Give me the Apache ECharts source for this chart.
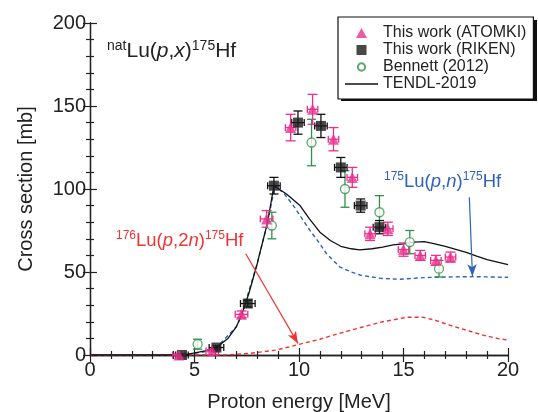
<!DOCTYPE html>
<html>
<head>
<meta charset="utf-8">
<script src="https://cdn.jsdelivr.net/npm/echarts@6/dist/echarts.min.js"></script>
<style>
  html, body { margin: 0; padding: 0; background: #fff; }
  #chart { width: 538px; height: 412px; }
</style>
</head>
<body>
<div id="chart"></div>
<script>
// [energy MeV, cross section mb, dy, dx]
const atomki = [
  [4.25, 0, 0.6, 0.3],
  [5.85, 2.5, 0.6, 0.3],
  [7.25, 24.5, 2, 0.3],
  [8.45, 82, 5, 0.3],
  [9.6, 137, 8, 0.25],
  [10.65, 148, 9, 0.25],
  [11.65, 130, 7, 0.25],
  [12.55, 107, 6, 0.25],
  [13.4, 73, 4, 0.25],
  [14.25, 76, 4, 0.25],
  [15.0, 63.5, 4, 0.25],
  [15.8, 60, 3, 0.25],
  [16.55, 57, 3, 0.25],
  [17.25, 59, 3, 0.25]
]
const riken = [
  [4.4, 0, 0.6, 0.3],
  [6.05, 4.5, 1, 0.35],
  [7.55, 31, 2, 0.35],
  [8.8, 102, 5, 0.3],
  [9.95, 140, 7, 0.3],
  [11.05, 138, 7, 0.3],
  [12.0, 113, 6, 0.3],
  [12.95, 90, 4, 0.3],
  [13.85, 77, 4, 0.3]
]
const bennett = [
  [5.15, 6.5, 3, 0],
  [8.7, 78, 8, 0],
  [10.6, 128, 14, 0],
  [12.2, 100, 11, 0],
  [13.85, 86, 10, 0],
  [15.3, 68, 7, 0],
  [16.7, 52, 5, 0]
]
const tendl = [
  [0, 0], [4.5, 0], [4.9, 1], [5.5, 2.5], [6.05, 4.6], [6.6, 10], [7.0, 17],
  [7.25, 24], [7.6, 37], [8.0, 55], [8.5, 80], [8.8, 102], [9.4, 97],
  [10.05, 90], [10.5, 82], [11.0, 74], [11.5, 69], [12.0, 65.5], [12.5, 64],
  [12.9, 63.3], [13.5, 64], [14.0, 65], [14.5, 66.3], [15.0, 67], [15.5, 68],
  [16.0, 68.3], [16.5, 67], [17.0, 65.5], [17.5, 63.7], [18.0, 61.8],
  [18.5, 59.5], [19.0, 57.5], [19.5, 56], [20, 54.5]
]
const lupn = [
  [0, 0], [4.5, 0], [5.5, 2], [6.05, 4.5], [7.0, 17], [7.25, 24], [8.0, 55],
  [8.5, 80], [8.85, 102], [9.3, 97], [9.73, 90], [10.1, 83], [10.53, 75],
  [11.0, 67], [11.32, 61], [11.96, 53], [12.5, 50], [12.92, 48.2],
  [13.88, 46.2], [14.83, 45.6], [15.95, 46.6], [17.0, 47], [18.34, 47.2], [20, 46.8]
]
const lup2n = [
  [0, 0], [6.5, 0], [7.65, 1], [8.93, 3], [10.0, 6.4], [11.0, 9.5], [11.64, 12],
  [12.5, 15], [13.23, 17.5], [14.0, 20], [15.15, 22.7], [15.95, 22.7],
  [16.5, 21], [17.2, 18], [18.0, 15], [18.8, 12], [19.5, 10], [20, 9]
]
const xTicks = [0, 5, 10, 15, 20]
const yTicks = [0, 50, 100, 150, 200]

const font = "'Liberation Sans', Arial, sans-serif"
const pink = '#ea2f8c'
const green = '#2f9148'
const blue = '#2f62b8'
const red = '#ef3434'

function errorBars(color, capW) {
  return function (params, api) {
    const x = api.value(0)
    const y = api.value(1)
    const dy = api.value(2)
    const dx = api.value(3)
    const top = api.coord([x, y + dy])
    const bot = api.coord([x, Math.max(y - dy, 0)])
    const left = api.coord([x - dx, y])
    const right = api.coord([x + dx, y])
    const style = { stroke: color, lineWidth: 1.3 }
    const children = [
      { type: 'line', shape: { x1: top[0], y1: top[1], x2: bot[0], y2: bot[1] }, style },
      { type: 'line', shape: { x1: top[0] - capW, y1: top[1], x2: top[0] + capW, y2: top[1] }, style },
      { type: 'line', shape: { x1: bot[0] - capW, y1: bot[1], x2: bot[0] + capW, y2: bot[1] }, style }
    ]
    if (dx > 0) {
      children.push(
        { type: 'line', shape: { x1: left[0], y1: left[1], x2: right[0], y2: right[1] }, style },
        { type: 'line', shape: { x1: left[0], y1: left[1] - 3.5, x2: left[0], y2: left[1] + 3.5 }, style },
        { type: 'line', shape: { x1: right[0], y1: right[1] - 3.5, x2: right[0], y2: right[1] + 3.5 }, style }
      )
    }
    return { type: 'group', children }
  }
}

function formula(color, size, parts) {
  const sup = Math.round(size * 0.66)
  return {
    text: parts,
    rich: {
      n: { fontFamily: font, fontSize: size, fill: color, verticalAlign: 'bottom' },
      i: { fontFamily: font, fontSize: size, fontStyle: 'italic', fill: color, verticalAlign: 'bottom' },
      s: { fontFamily: font, fontSize: sup, fill: color, verticalAlign: 'bottom', padding: [0, 0, Math.round(size * 0.45), 0] }
    }
  }
}

const axisCommon = {
  axisLine: { lineStyle: { color: '#222', width: 1.3 } },
  axisTick: { inside: true, length: 7, lineStyle: { color: '#222', width: 1.2 } },
  minorTick: { show: true, splitNumber: 5, length: 4, lineStyle: { color: '#222', width: 1.2 } },
  splitLine: { show: false }
}

const chart = echarts.init(document.getElementById('chart'))
chart.setOption({
  animation: false,
  textStyle: { fontFamily: font },
  grid: { left: 90, right: 30, top: 23, bottom: 57, containLabel: false, outerBoundsMode: 'none' },
  legend: {
    orient: 'vertical',
    left: 338,
    top: 17,
    z: 20,
    padding: [8, 7, 7, 7],
    itemWidth: 33,
    itemHeight: 10,
    itemGap: 1,
    symbolKeepAspect: true,
    backgroundColor: '#fff',
    borderColor: '#111',
    borderWidth: 1.2,
    borderRadius: 0,
    textStyle: { fontFamily: font, fontSize: 16, lineHeight: 16, color: '#222' },
    data: [
      { name: 'This work (ATOMKI)', icon: 'path://M5,0 L10,9 L0,9 Z' },
      { name: 'This work (RIKEN)', icon: 'path://M0,0 H10 V10 H0 Z' },
      { name: 'Bennett (2012)', icon: 'path://M5,1 A4,4 0 1 1 4.99,1 Z M5,-0.5 M5,10.5' },
      { name: 'TENDL-2019', icon: 'path://M0,0 H33 V1.3 H0 Z' }
    ]
  },
  xAxis: [
    Object.assign({
      type: 'value', min: 0, max: 20, interval: 5,
      name: 'Proton energy [MeV]', nameLocation: 'middle', nameGap: 37,
      nameTextStyle: { fontFamily: font, fontSize: 20, color: '#222' },
      axisLabel: {
        fontFamily: font, fontSize: 20, color: '#222', margin: 5,
        formatter: v => (xTicks.indexOf(v) >= 0 ? String(v) : '')
      }
    }, axisCommon),
    Object.assign({
      type: 'value', min: 0, max: 20, interval: 5, position: 'top',
      axisLabel: { show: false }
    }, axisCommon)
  ],
  yAxis: [
    Object.assign({
      type: 'value', min: 0, max: 200, interval: 50,
      name: 'Cross section [mb]', nameLocation: 'middle', nameGap: 54,
      nameTextStyle: { fontFamily: font, fontSize: 20, color: '#222' },
      axisLabel: {
        fontFamily: font, fontSize: 20, color: '#222', margin: 4,
        formatter: v => (yTicks.indexOf(v) >= 0 ? String(v) : '')
      }
    }, axisCommon),
    Object.assign({
      type: 'value', min: 0, max: 200, interval: 50, position: 'right',
      axisLabel: { show: false }
    }, axisCommon)
  ],
  graphic: [
    // legend drop shadow
    { type: 'rect', left: 341, top: 20, z: 19, shape: { width: 196, height: 81 }, style: { fill: '#111' } },
    {
      type: 'text', left: 107, top: 39, z: 50,
      style: formula('#222', 21, '{s|nat}{n|Lu(}{i|p}{n|,}{i|x}{n|)}{s|175}{n|Hf}')
    },
    {
      type: 'text', left: 384, top: 171, z: 50,
      style: formula(blue, 18.5, '{s|175}{n|Lu(}{i|p}{n|,}{i|n}{n|)}{s|175}{n|Hf}')
    },
    {
      type: 'text', left: 116, top: 230, z: 50,
      style: formula(red, 18.5, '{s|176}{n|Lu(}{i|p}{n|,2}{i|n}{n|)}{s|175}{n|Hf}')
    }
  ],
  series: [
    {
      name: 'TENDL-2019', type: 'line', data: tendl, symbol: 'none', z: 3,
      lineStyle: { color: '#111', width: 1.3 }, itemStyle: { color: '#111' }
    },
    {
      name: 'lupn', type: 'line', data: lupn, symbol: 'none', z: 2,
      lineStyle: { color: blue, width: 1.4, type: [4, 3] },
      markLine: {
        silent: true, symbol: ['none', 'arrow'], symbolSize: [7, 12], label: { show: false },
        lineStyle: { color: blue, width: 1.2, type: 'solid' },
        data: [[{ coord: [18.15, 95] }, { coord: [18.3, 47.5] }]]
      }
    },
    {
      name: 'lup2n', type: 'line', data: lup2n, symbol: 'none', z: 2,
      lineStyle: { color: red, width: 1.4, type: [4, 3] },
      markLine: {
        silent: true, symbol: ['none', 'arrow'], symbolSize: [7, 12], label: { show: false },
        lineStyle: { color: red, width: 1.2, type: 'solid' },
        data: [[{ coord: [7.45, 61] }, { coord: [9.95, 7] }]]
      }
    },
    { type: 'custom', data: bennett, renderItem: errorBars(green, 4.5), z: 4, silent: true },
    { type: 'custom', data: riken, renderItem: errorBars('#111', 4.5), z: 5, silent: true },
    { type: 'custom', data: atomki, renderItem: errorBars(pink, 5), z: 6, silent: true },
    {
      name: 'Bennett (2012)', type: 'scatter', data: bennett, symbol: 'circle', symbolSize: 9, z: 7,
      itemStyle: { color: '#fff', borderColor: green, borderWidth: 1.3 }
    },
    {
      name: 'This work (RIKEN)', type: 'scatter', data: riken, symbol: 'rect', symbolSize: 10, z: 8,
      itemStyle: { color: '#1a1a1a' }
    },
    {
      name: 'This work (ATOMKI)', type: 'scatter', data: atomki, symbol: 'triangle', symbolSize: 11, z: 9,
      itemStyle: { color: pink }
    }
  ]
})
</script>
</body>
</html>
